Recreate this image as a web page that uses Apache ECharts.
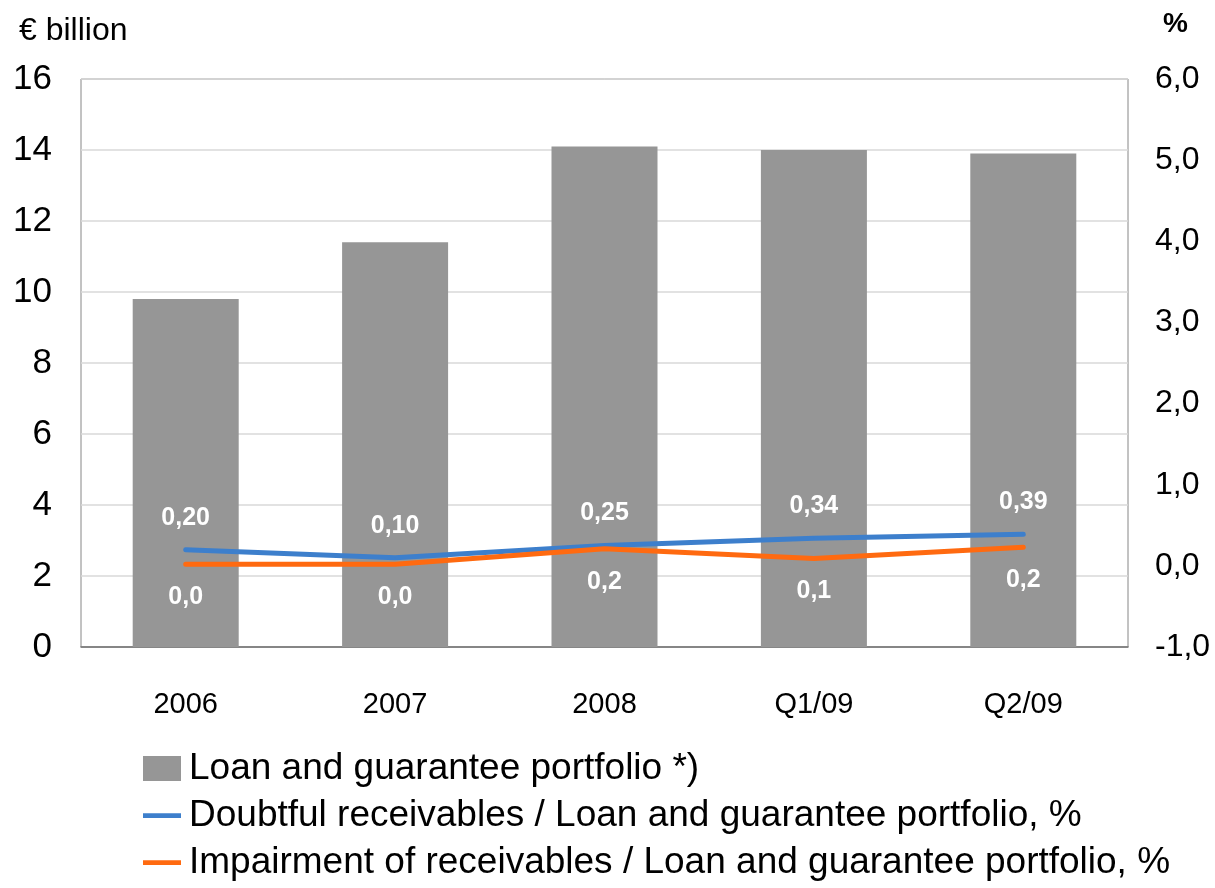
<!DOCTYPE html>
<html>
<head>
<meta charset="utf-8">
<script src="https://cdn.jsdelivr.net/npm/echarts@6/dist/echarts.min.js"></script>
<style>html,body{margin:0;padding:0;background:#fff;}#c{width:1215px;height:888px;}</style>
</head>
<body>
<div id="c"></div>
<script>
const categories = ['2006', '2007', '2008', 'Q1/09', 'Q2/09'];
const portfolio = [9.8, 11.4, 14.1, 14.0, 13.9];
const doubtful = [0.20, 0.10, 0.25, 0.34, 0.39];
const impairment = [0.02, 0.02, 0.21, 0.09, 0.23];
const seriesNames = [
  'Loan and guarantee portfolio *)',
  'Doubtful receivables / Loan and guarantee portfolio, %',
  'Impairment of receivables / Loan and guarantee portfolio, %'
];
const leftUnit = '€ billion';
const rightUnit = '%';

const FONT = "'Liberation Sans', Arial, sans-serif";
const comma = (v, d) => v.toFixed(d).replace('.', ',');
const LINE_ICON = 'path://M0,0h40v5h-40z';

const chart = echarts.init(document.getElementById('c'));
chart.setOption({
  animation: false,
  backgroundColor: '#fff',
  textStyle: { fontFamily: FONT },
  title: [
    { text: leftUnit, left: 14, top: 10, textStyle: { fontFamily: FONT, fontSize: 32, fontWeight: 'normal', color: '#000' } },
    { text: rightUnit, left: 1158, top: 5, textStyle: { fontFamily: FONT, fontSize: 28, fontWeight: 'bold', color: '#000' } }
  ],
  grid: { left: 81, right: 87, top: 79, bottom: 241, show: true, borderColor: '#868686', borderWidth: 1, backgroundColor: 'transparent' },
  legend: {
    orient: 'vertical', left: 143, top: 750, padding: 0, itemGap: 10, itemWidth: 38, itemHeight: 25,
    textStyle: { fontFamily: FONT, fontSize: 37, color: '#000', padding: [0, 0, 0, 3] },
    data: [
      { name: seriesNames[0], icon: 'rect' },
      { name: seriesNames[1], icon: LINE_ICON },
      { name: seriesNames[2], icon: LINE_ICON }
    ]
  },
  xAxis: {
    type: 'category', data: categories,
    axisLine: { show: true, lineStyle: { color: '#6e6e6e', width: 1.5 } },
    axisTick: { show: false },
    axisLabel: { fontFamily: FONT, fontSize: 29, color: '#000', margin: 43 }
  },
  yAxis: [
    {
      type: 'value', min: 0, max: 16, interval: 2,
      axisLine: { show: false }, axisTick: { show: false },
      splitLine: { show: true, lineStyle: { color: '#d9d9d9', width: 1.5 } },
      axisLabel: { fontFamily: FONT, fontSize: 35, color: '#000', margin: 29 }
    },
    {
      type: 'value', min: -1, max: 6, interval: 1,
      axisLine: { show: false }, axisTick: { show: false }, splitLine: { show: false },
      axisLabel: { fontFamily: FONT, fontSize: 32, color: '#000', margin: 27, formatter: v => comma(v, 1) }
    }
  ],
  series: [
    {
      name: seriesNames[0], type: 'bar', data: portfolio, barWidth: 106,
      itemStyle: { color: '#969696' }
    },
    {
      name: seriesNames[1], type: 'line', yAxisIndex: 1, data: doubtful,
      symbol: 'circle', symbolSize: 1, showSymbol: true,
      color: '#3d7fcc',
      itemStyle: { color: '#3d7fcc' },
      lineStyle: { color: '#3d7fcc', width: 5, cap: 'round' },
      label: { show: true, position: 'top', distance: 19, color: '#fff', fontFamily: FONT, fontWeight: 'bold', fontSize: 25, formatter: p => comma(p.value, 2) },
      z: 3
    },
    {
      name: seriesNames[2], type: 'line', yAxisIndex: 1, data: impairment,
      symbol: 'circle', symbolSize: 1, showSymbol: true,
      color: '#ff6a10',
      itemStyle: { color: '#ff6a10' },
      lineStyle: { color: '#ff6a10', width: 5, cap: 'round' },
      label: { show: true, position: 'bottom', distance: 20, color: '#fff', fontFamily: FONT, fontWeight: 'bold', fontSize: 25, formatter: p => comma(p.value, 1) },
      z: 3
    }
  ]
});
</script>
</body>
</html>
